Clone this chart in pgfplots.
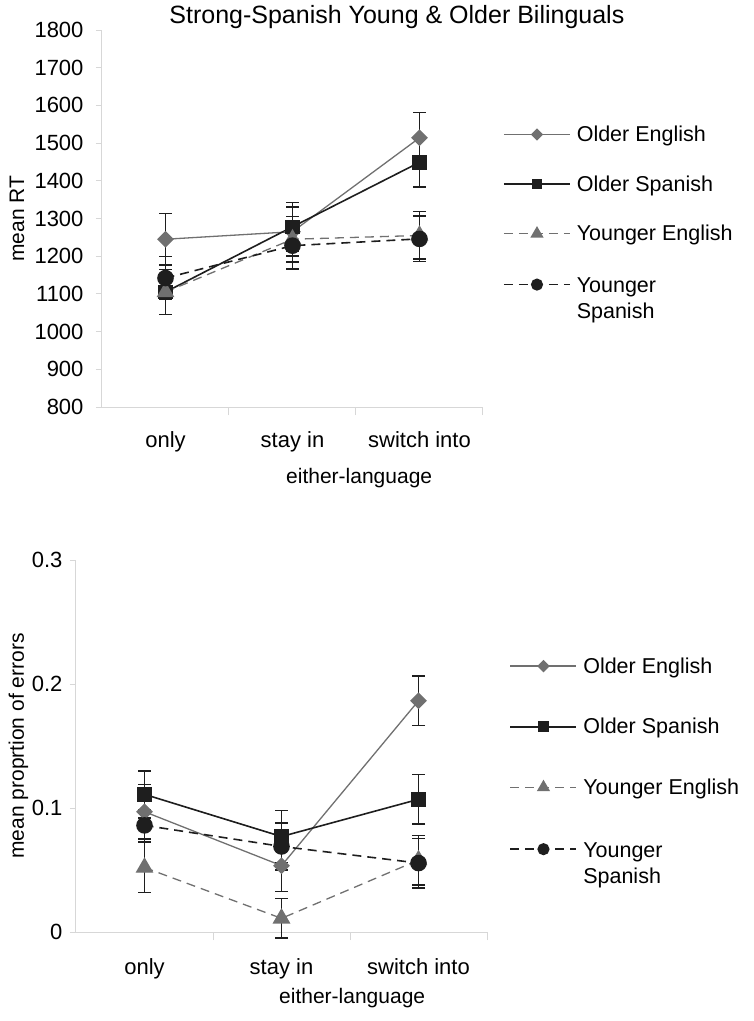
\documentclass[border=0pt]{standalone}
\usepackage{fontspec}
\setmainfont{Liberation Sans}
\usepackage{pgfplots}
\pgfplotsset{compat=1.18}
\definecolor{mgray}{RGB}{112,112,112}
\definecolor{mblack}{RGB}{30,30,30}
\definecolor{axgray}{RGB}{215,215,215}
\pgfplotsset{
  common/.style={
    scale only axis,
    xmin=-0.5, xmax=2.5,
    axis x line*=bottom, axis y line*=left,
    axis line style={axgray, line width=1pt},
    xtick={0,1,2}, xticklabels={only, stay in, switch into},
    major x tick style={draw=none},
    minor xtick={0.5,1.5,2.5},
    minor x tick style={axgray, line width=1pt},
    minor tick length=8pt,
    major y tick style={axgray, line width=1pt},
    major tick length=6pt,
    tick align=outside,
    tick label style={font=\fontsize{22}{26}\selectfont},
    yticklabel style={/pgf/number format/1000 sep={}, /pgf/number format/assume math mode=true},
    clip=false,
    legend cell align=left,
    legend image code/.code={\draw[mark repeat=2,mark phase=2,#1,every mark/.append style={scale=0.7}] plot coordinates {(0pt,0pt) (33pt,0pt) (66pt,0pt)};},
  },
  eb/.style={error bars/.cd, y dir=both, y explicit,
    error bar style={mblack, line width=1.5pt, solid},
    error mark options={rotate=90, mblack, mark size=6.5pt, line width=1.5pt, solid}},
  oe/.style={mgray, line width=1.3pt, mark=square*, mark size=5.3pt,
    mark options={rotate=45, fill=mgray, draw=mgray, solid}, eb},
  os/.style={mblack, line width=1.6pt, mark=square*, mark size=6.5pt,
    mark options={fill=mblack, draw=mblack, solid}, eb},
  ye/.style={mgray, line width=1.3pt, dash pattern=on 9pt off 6pt, mark=triangle*, mark size=9pt,
    mark options={fill=mgray, draw=mgray, solid}, eb},
  ys/.style={mblack, line width=1.6pt, dash pattern=on 9pt off 6pt, mark=*, mark size=7.5pt,
    mark options={fill=mblack, draw=mblack, solid}, eb},
}
% x: 0 = only, 1 = stay in, 2 = switch into
\pgfplotstableread{
x y e
0 1245 68
1 1265 65
2 1514 67
}\rtOE
\pgfplotstableread{
x y e
0 1105 60
1 1278 65
2 1449 65
}\rtOS
\pgfplotstableread{
x y e
0 1105 60
1 1245 60
2 1255 63
}\rtYE
\pgfplotstableread{
x y e
0 1142 57
1 1228 62
2 1246 60
}\rtYS
\pgfplotstableread{
x y e
0 0.097 0.022
1 0.0535 0.021
2 0.1865 0.020
}\erOE
\pgfplotstableread{
x y e
0 0.111 0.019
1 0.077 0.021
2 0.107 0.020
}\erOS
\pgfplotstableread{
x y e
0 0.052 0.020
1 0.011 0.016
2 0.058 0.020
}\erYE
\pgfplotstableread{
x y e
0 0.086 0.013
1 0.069 0.019
2 0.0556 0.020
}\erYS
\begin{document}
\begin{tikzpicture}
\useasboundingbox (0pt,0pt) rectangle (754pt,-1021pt);
\begin{axis}[common,
  at={(102pt,-407pt)}, anchor=south west, width=381pt, height=377pt,
  ymin=800, ymax=1800, ytick={800,900,...,1800},
  yticklabel style={xshift=-9pt},
  xticklabel style={yshift=-15pt},
  ylabel={mean RT},
  every axis y label/.style={at={(axis description cs:-0.223,0.5)}, rotate=90, anchor=center, font=\fontsize{21}{25}\selectfont},
  xlabel={either-language},
  every axis x label/.style={at={(axis description cs:0.675,-0.188)}, anchor=center, font=\fontsize{21}{25}\selectfont},
  title={Strong-Spanish Young \& Older Bilinguals},
  every axis title/.style={at={(axis description cs:0.774,1.034)}, anchor=center, font=\fontsize{25}{29}\selectfont},
  legend style={at={(1.0446,0.7565)}, anchor=north west, draw=none, fill=none,
    font=\fontsize{21.5}{26}\selectfont, row sep=28.5pt, column sep=4pt},
]
\addplot[oe] table[x=x,y=y,y error=e] {\rtOE};
\addlegendentry{Older English}
\addplot[os] table[x=x,y=y,y error=e] {\rtOS};
\addlegendentry{Older Spanish}
\addplot[ye] table[x=x,y=y,y error=e] {\rtYE};
\addlegendentry{Younger English}
\addplot[ys] table[x=x,y=y,y error=e] {\rtYS};
\addlegendentry{\begin{tabular}[t]{@{}l@{}}Younger\\Spanish\end{tabular}}
\end{axis}
\begin{axis}[common,
  at={(76pt,-932pt)}, anchor=south west, width=411pt, height=372pt,
  ymin=0, ymax=0.3, ytick={0,0.1,0.2,0.3},
  yticklabel style={xshift=-4pt},
  xticklabel style={yshift=-17pt},
  ylabel={mean proprtion of errors},
  every axis y label/.style={at={(axis description cs:-0.14,0.5)}, rotate=90, anchor=center, font=\fontsize{21}{25}\selectfont},
  xlabel={either-language},
  every axis x label/.style={at={(axis description cs:0.672,-0.177)}, anchor=center, font=\fontsize{21}{25}\selectfont},
  legend style={at={(1.0474,0.749)}, anchor=north west, draw=none, fill=none,
    font=\fontsize{21.5}{26}\selectfont, row sep=39.5pt, column sep=4pt},
]
\addplot[oe] table[x=x,y=y,y error=e] {\erOE};
\addlegendentry{Older English}
\addplot[os] table[x=x,y=y,y error=e] {\erOS};
\addlegendentry{Older Spanish}
\addplot[ye] table[x=x,y=y,y error=e] {\erYE};
\addlegendentry{Younger English}
\addplot[ys] table[x=x,y=y,y error=e] {\erYS};
\addlegendentry{\begin{tabular}[t]{@{}l@{}}Younger\\Spanish\end{tabular}}
\end{axis}
\end{tikzpicture}
\end{document}
